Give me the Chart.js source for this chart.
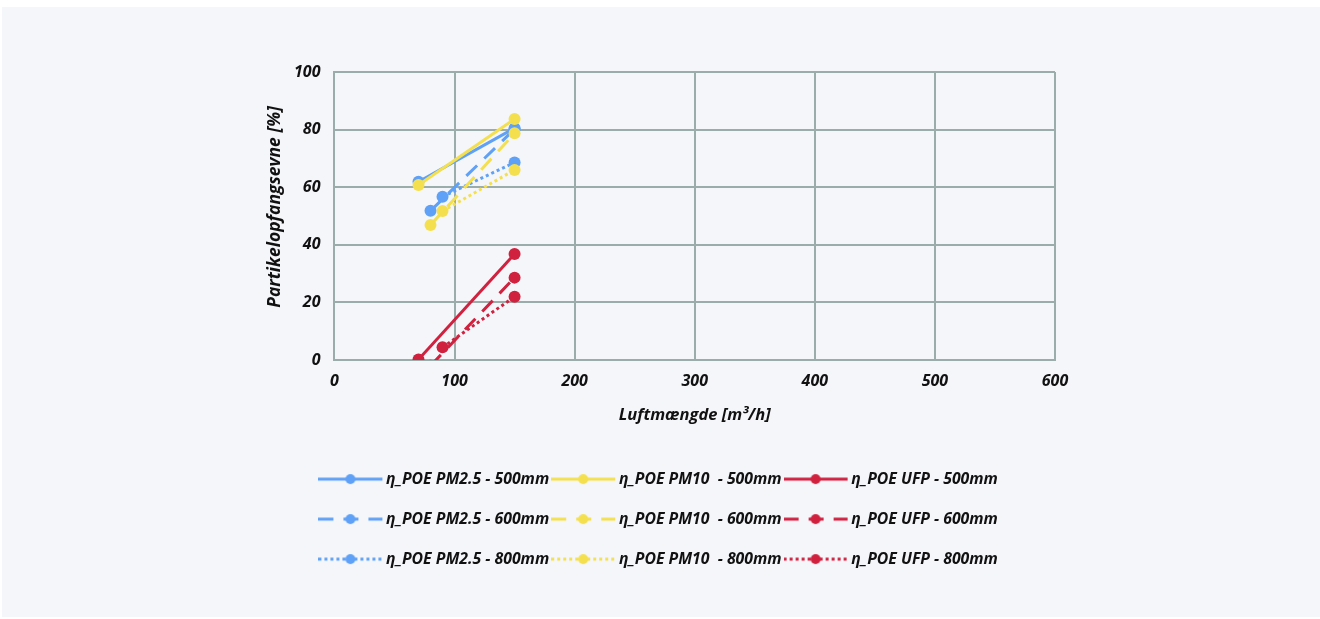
<!DOCTYPE html>
<html>
<head>
<meta charset="utf-8">
<script src="https://cdn.jsdelivr.net/npm/chart.js@4"></script>
<style>
  html, body { margin: 0; padding: 0; background: #ffffff; }
  #wrap { position: relative; width: 1320px; height: 619px; }
  #panel { position: absolute; left: 2px; top: 7px; width: 1318px; height: 610px; background: #f5f6fa; }
  #c { position: absolute; left: 0; top: 0; }
</style>
</head>
<body>
<div id="wrap">
  <div id="panel"></div>
  <canvas id="c" width="1320" height="619"></canvas>
</div>
<script>
// Airflow (m³/h) for each filter depth
const airflow500 = [70, 150];
const airflow600 = [80, 150];
const airflow800 = [90, 150];

// Particle capture efficiency (%)
const pm25_500 = [61.9, 80.5];
const pm10_500 = [60.8, 83.7];
const ufp_500  = [0.2, 36.8];
const pm25_600 = [51.8, 80.2];
const pm10_600 = [46.9, 78.7];
const ufp_600  = [-2.0, 28.6];
const pm25_800 = [56.7, 68.6];
const pm10_800 = [51.7, 66.0];
const ufp_800  = [4.4, 22.0];

const seriesLabels = [
  'η_POE PM2.5 - 500mm', 'η_POE PM10  - 500mm', 'η_POE UFP - 500mm',
  'η_POE PM2.5 - 600mm', 'η_POE PM10  - 600mm', 'η_POE UFP - 600mm',
  'η_POE PM2.5 - 800mm', 'η_POE PM10  - 800mm', 'η_POE UFP - 800mm'
];

const xTickValues = [0, 100, 200, 300, 400, 500, 600];
const yTickValues = [0, 20, 40, 60, 80, 100];

const BLUE = '#5fa1f6';
const YELLOW = '#f4e04e';
const RED = '#d0213f';
const GRID = '#9aadab';
const TEXT = '#111111';

const DASH_SOLID = [];
const DASH_LONG = [15, 10];
const DASH_DOT = [3, 3];

// Legend geometry: 40px rows, 64px swatch line, small gaps around the text
const LEGEND_FONT_SIZE = 15.8;
const LEGEND_PAD = 40 - LEGEND_FONT_SIZE;
const LEGEND_BOX = 45.5 - LEGEND_FONT_SIZE / 2;
const SWATCH_REACH = LEGEND_PAD - 2;
const SWATCH_W = Math.round(LEGEND_BOX + 2 * SWATCH_REACH);

function pts(xs, ys) { return xs.map((x, i) => ({ x: x, y: ys[i] })); }

// Legend swatch: a short line in the series' dash style with a marker in the middle.
// The image is wider than the reserved box so the line reaches back toward the previous entry.
function makeSwatch(color, dash) {
  const c = document.createElement('canvas');
  c.width = SWATCH_W; c.height = 14;
  const g = c.getContext('2d');
  g.strokeStyle = color;
  g.lineWidth = 3;
  g.setLineDash(dash);
  g.beginPath(); g.moveTo(0, 7); g.lineTo(64, 7); g.stroke();
  g.setLineDash([]);
  g.fillStyle = color;
  g.beginPath(); g.arc(32, 7, 5, 0, Math.PI * 2); g.fill();
  return c;
}

function series(label, color, dash, xs, ys, order, extra) {
  return Object.assign({
    label: label,
    data: pts(xs, ys),
    borderColor: color,
    backgroundColor: color,
    pointBackgroundColor: color,
    pointBorderColor: color,
    pointBorderWidth: 0,
    pointRadius: 6,
    pointHoverRadius: 6,
    borderWidth: 3,
    borderDash: dash,
    fill: false,
    tension: 0,
    order: order,
    swatch: makeSwatch(color, dash)
  }, extra || {});
}

const datasets = [
  series(seriesLabels[0], BLUE,   DASH_SOLID, airflow500, pm25_500, 1),
  series(seriesLabels[1], YELLOW, DASH_SOLID, airflow500, pm10_500, 0),
  series(seriesLabels[2], RED,    DASH_SOLID, airflow500, ufp_500, 2),
  series(seriesLabels[3], BLUE,   DASH_LONG,  airflow600, pm25_600, 1),
  series(seriesLabels[4], YELLOW, DASH_LONG,  airflow600, pm10_600, 0),
  series(seriesLabels[5], RED,    DASH_LONG,  airflow600, ufp_600, 2, { clip: 0 }),
  series(seriesLabels[6], BLUE,   DASH_DOT,   airflow800, pm25_800, 1),
  series(seriesLabels[7], YELLOW, DASH_DOT,   airflow800, pm10_800, 0),
  series(seriesLabels[8], RED,    DASH_DOT,   airflow800, ufp_800, 2)
];

const FONT = '"Open Sans", "Noto Sans", sans-serif';
const tickFont = { family: FONT, size: 16, weight: 'bold', style: 'italic' };
const legendFont = { family: FONT, size: LEGEND_FONT_SIZE, weight: 'bold', style: 'italic' };
const xTitleFont = { family: FONT, size: 16.5, weight: 'bold', style: 'italic' };
const yTitleFont = { family: FONT, size: 17.5, weight: 'bold', style: 'italic' };

new Chart(document.getElementById('c'), {
  type: 'line',
  data: { datasets: datasets },
  options: {
    responsive: false,
    animation: false,
    layout: { padding: { left: 265, right: 246.5, top: 72, bottom: 42 } },
    scales: {
      x: {
        type: 'linear',
        min: xTickValues[0],
        max: xTickValues[xTickValues.length - 1],
        afterBuildTicks: (axis) => { axis.ticks = xTickValues.map(v => ({ value: v })); },
        // keep the plot's right edge clear of the legend's wider band
        afterFit: (axis) => { axis.paddingRight = 265; },
        ticks: { font: tickFont, color: TEXT, padding: 12 },
        grid: { color: GRID, lineWidth: 2, drawTicks: false },
        border: { color: GRID, width: 2 },
        title: { display: true, text: 'Luftmængde [m³/h]', font: xTitleFont, color: TEXT, padding: { top: 2, bottom: 22 } }
      },
      y: {
        type: 'linear',
        min: yTickValues[0],
        max: yTickValues[yTickValues.length - 1],
        afterBuildTicks: (axis) => { axis.ticks = yTickValues.map(v => ({ value: v })); },
        ticks: { font: tickFont, color: TEXT, padding: 14 },
        grid: { color: GRID, lineWidth: 2, drawTicks: false },
        border: { color: GRID, width: 2 },
        title: { display: true, text: '    Partikelopfangsevne [%]', font: yTitleFont, color: TEXT, padding: { top: 0, bottom: -6 } }
      }
    },
    plugins: {
      tooltip: { enabled: false },
      legend: {
        position: 'bottom',
        labels: {
          usePointStyle: true,
          pointStyleWidth: LEGEND_BOX,
          padding: LEGEND_PAD,
          font: legendFont,
          color: TEXT,
          sort: (a, b) => a.datasetIndex - b.datasetIndex,
          generateLabels: (chart) => {
            const items = Chart.defaults.plugins.legend.labels.generateLabels(chart);
            items.forEach(it => { it.pointStyle = chart.data.datasets[it.datasetIndex].swatch; });
            return items;
          }
        }
      }
    }
  }
});
</script>
</body>
</html>
